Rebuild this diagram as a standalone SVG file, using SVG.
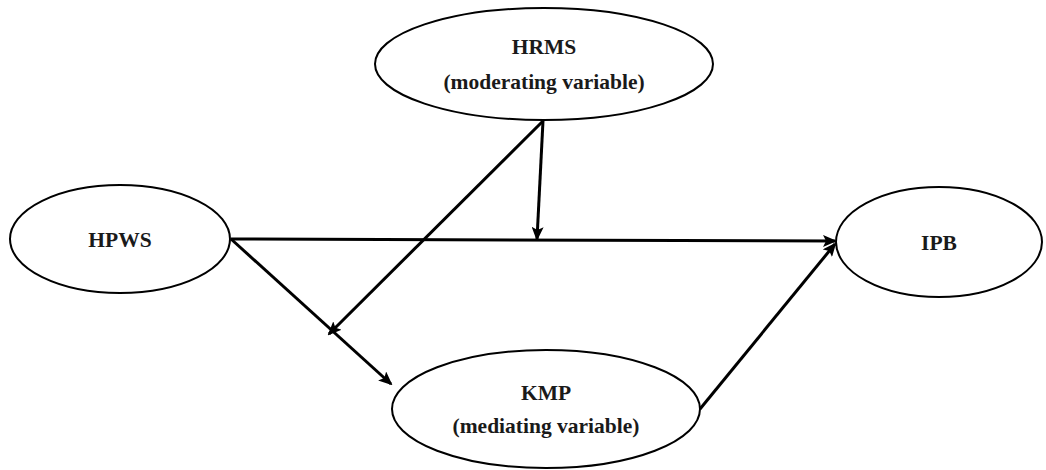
<svg xmlns="http://www.w3.org/2000/svg" width="1046" height="470" viewBox="0 0 1046 470">
<style>
.n{fill:#fff;stroke:#000;stroke-width:2}
.t{font-family:"Liberation Serif",serif;font-weight:bold;font-size:21.5px;fill:#1a1a1a;text-anchor:middle}
.c{stroke:#000;stroke-width:3;fill:none;marker-end:url(#ah)}
</style>
<defs>
<marker id="ah" markerWidth="14" markerHeight="12" refX="12" refY="6" orient="auto" markerUnits="userSpaceOnUse">
<path d="M0,0 L14,6 L0,12 L3,6 Z" fill="#000"/>
</marker>
</defs>
<rect width="1046" height="470" fill="#fff"/>
<g id="connectors">
<line class="c" x1="231" y1="239" x2="835" y2="241"/>
<line class="c" x1="231" y1="239" x2="391" y2="384"/>
<line class="c" x1="700" y1="409" x2="835" y2="244"/>
<line class="c" x1="543" y1="121" x2="537" y2="239"/>
<line class="c" x1="543" y1="121" x2="329" y2="334"/>
</g>
<g id="HRMS">
<ellipse class="n" cx="544" cy="64" rx="169" ry="56"/>
<text class="t" x="544" y="54">HRMS</text>
<text class="t" x="544" y="89">(moderating variable)</text>
</g>
<g id="HPWS">
<ellipse class="n" cx="120" cy="239" rx="110" ry="54"/>
<text class="t" x="120" y="247">HPWS</text>
</g>
<g id="IPB">
<ellipse class="n" cx="939" cy="242" rx="103" ry="55"/>
<text class="t" x="939" y="250">IPB</text>
</g>
<g id="KMP">
<ellipse class="n" cx="546" cy="409" rx="154" ry="59"/>
<text class="t" x="546" y="400">KMP</text>
<text class="t" x="546" y="433">(mediating variable)</text>
</g>
</svg>
